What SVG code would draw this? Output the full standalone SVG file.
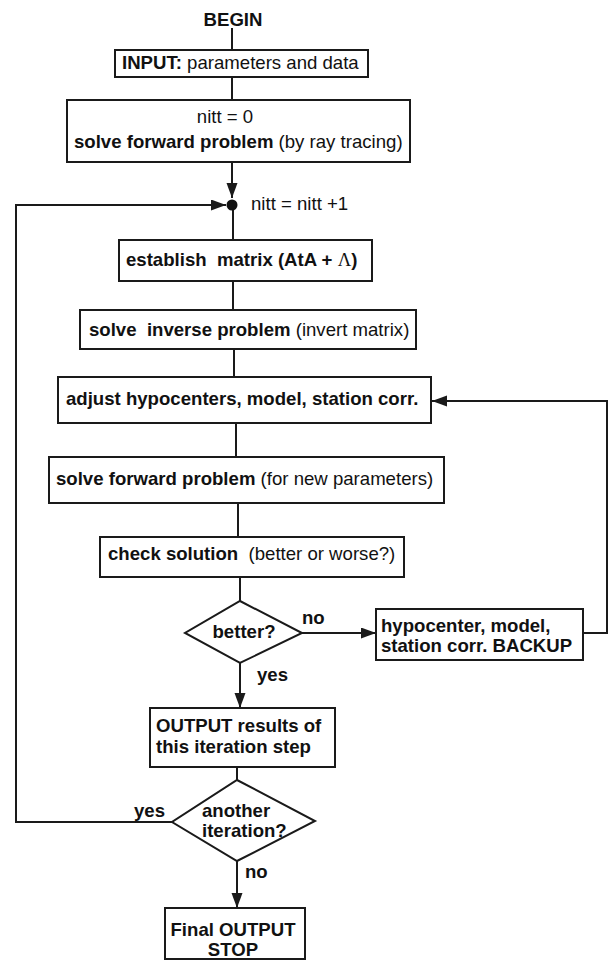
<svg xmlns="http://www.w3.org/2000/svg" width="610" height="961" viewBox="0 0 610 961">
<style>
  .box { fill: #fff; stroke: #1a1a1a; stroke-width: 2; }
  .ln { fill: none; stroke: #1a1a1a; stroke-width: 2; }
  text { font-family: "Liberation Sans", Arial, sans-serif; font-size: 18.6px; fill: #111; }
  .b { font-weight: bold; }
  .r { font-weight: normal; }
  .sym { font-family: "Liberation Serif", "Times New Roman", serif; font-weight: normal; }
</style>
<defs>
  <marker id="ah" markerWidth="16" markerHeight="12" refX="15" refY="5.5" orient="auto" markerUnits="userSpaceOnUse">
    <path d="M0,0 L15,5.5 L0,11 z" fill="#1a1a1a"/>
  </marker>
</defs>
<rect width="610" height="961" fill="#fff"/>

<g id="connectors">
  <line class="ln" x1="232" y1="28" x2="232" y2="50"/>
  <line class="ln" x1="232" y1="77" x2="232" y2="100"/>
  <line class="ln" x1="232" y1="162" x2="232" y2="198" marker-end="url(#ah)"/>
  <polyline class="ln" points="172,822 16,822 16,205 226,205" marker-end="url(#ah)"/>
  <line class="ln" x1="233" y1="205" x2="233" y2="240"/>
  <line class="ln" x1="233" y1="281" x2="233" y2="310"/>
  <line class="ln" x1="234" y1="349" x2="234" y2="377"/>
  <line class="ln" x1="236" y1="423" x2="236" y2="457"/>
  <line class="ln" x1="238" y1="503" x2="238" y2="537"/>
  <line class="ln" x1="240" y1="577" x2="240" y2="601"/>
  <line class="ln" x1="302" y1="633" x2="376" y2="633" marker-end="url(#ah)"/>
  <polyline class="ln" points="583,633 607,633 607,401 432,401" marker-end="url(#ah)"/>
  <line class="ln" x1="240" y1="663" x2="240" y2="708" marker-end="url(#ah)"/>
  <line class="ln" x1="237" y1="767" x2="237" y2="780"/>
  <line class="ln" x1="237" y1="861" x2="237" y2="908" marker-end="url(#ah)"/>
  <text class="b" x="302" y="624">no</text>
  <text class="b" x="257" y="681">yes</text>
  <text class="b" x="134" y="817">yes</text>
  <text class="b" x="245" y="878">no</text>
</g>

<g id="begin">
  <text class="b" x="233" y="26" text-anchor="middle">BEGIN</text>
</g>

<g id="input">
  <rect class="box" x="115" y="50" width="253" height="27"/>
  <text x="122" y="69"><tspan class="b">INPUT:</tspan><tspan class="r"> parameters and data</tspan></text>
</g>

<g id="init">
  <rect class="box" x="67" y="100" width="343" height="62"/>
  <text class="r" x="225" y="123" text-anchor="middle">nitt = 0</text>
  <text x="74" y="148"><tspan class="b">solve forward problem</tspan><tspan class="r"> (by ray tracing)</tspan></text>
</g>

<g id="junction">
  <circle cx="232" cy="205" r="5.5" fill="#111"/>
  <text class="r" x="251" y="210">nitt = nitt +1</text>
</g>

<g id="establish">
  <rect class="box" x="119" y="240" width="253" height="41"/>
  <text class="b" x="126" y="266" xml:space="preserve">establish  matrix (AtA + <tspan class="sym">Λ</tspan>)</text>
</g>

<g id="inverse">
  <rect class="box" x="80" y="310" width="336" height="39"/>
  <text x="89" y="336" xml:space="preserve"><tspan class="b">solve  inverse problem</tspan><tspan class="r"> (invert matrix)</tspan></text>
</g>

<g id="adjust">
  <rect class="box" x="58" y="377" width="373" height="46"/>
  <text class="b" x="66" y="405">adjust hypocenters, model, station corr.</text>
</g>

<g id="forward">
  <rect class="box" x="49" y="457" width="395" height="46"/>
  <text x="56" y="485"><tspan class="b">solve forward problem</tspan><tspan class="r"> (for new parameters)</tspan></text>
</g>

<g id="check">
  <rect class="box" x="100" y="537" width="304" height="40"/>
  <text x="108" y="560" xml:space="preserve"><tspan class="b">check solution</tspan><tspan class="r">  (better or worse?)</tspan></text>
</g>

<g id="better">
  <polygon class="box" points="240,601 302,633 240,663 185,633"/>
  <text class="b" x="244" y="638" text-anchor="middle">better?</text>
</g>

<g id="backup">
  <rect class="box" x="376" y="609" width="207" height="51"/>
  <text class="b" x="381" y="632">hypocenter, model,</text>
  <text class="b" x="381" y="652">station corr. BACKUP</text>
</g>

<g id="output">
  <rect class="box" x="150" y="708" width="185" height="59"/>
  <text class="b" x="156" y="732">OUTPUT results of</text>
  <text class="b" x="156" y="753">this iteration step</text>
</g>

<g id="another">
  <polygon class="box" points="237,780 315,821 237,861 172,822"/>
  <text class="b" x="202" y="817">another</text>
  <text class="b" x="202" y="837">iteration?</text>
</g>

<g id="final">
  <rect class="box" x="165" y="908" width="140" height="51"/>
  <text class="b" x="233" y="936" text-anchor="middle">Final OUTPUT</text>
  <text class="b" x="233" y="956" text-anchor="middle">STOP</text>
</g>
</svg>
